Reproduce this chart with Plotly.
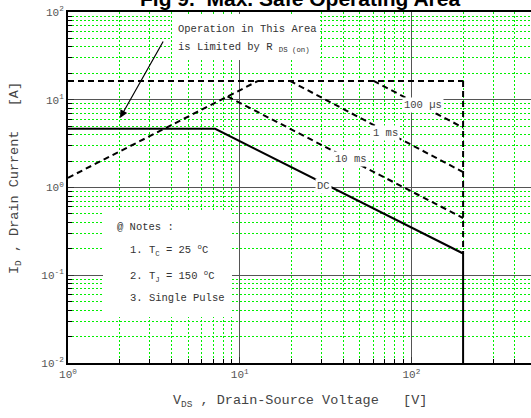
import plotly.graph_objects as go

# ---- data (V in volts, I in amps) ----
dc_v = [1, 7.2, 200, 200]
dc_i = [4.66, 4.66, 0.177, 0.01]

idm_v = [1, 200]            # pulsed drain current ceiling
idm_i = [16.4, 16.4]

rds_v = [1, 12.8]           # R_DS(on) limit
rds_i = [1.29, 16.4]

vmax_v = [200, 200]         # V_DSS limit (dashed part)
vmax_i = [16.4, 0.177]

us100_v = [60.2, 200]
us100_i = [16.4, 4.82]
ms1_v = [19.6, 200]
ms1_i = [16.4, 1.50]
ms10_v = [8.49, 200]
ms10_i = [10.9, 0.449]

decades_x = [1, 10, 100]
decades_x_text = ['10<sup>0</sup>', '10<sup>1</sup>', '10<sup>2</sup>']
decades_y = [0.01, 0.1, 1, 10, 100]
decades_y_text = ['10<sup>-2</sup>', '10<sup>-1</sup>', '10<sup>0</sup>',
                  '10<sup>1</sup>', '10<sup>2</sup>']

W, H = 531, 418
L, R, T, B = 68, 0, 12, 55
PW, PH = W - L - R, H - T - B

def px(x):
    return (x - L) / PW

def py(y):
    return (H - B - y) / PH

MONO = 'Liberation Mono'
GREY = '#555555'

fig = go.Figure()

dash = '6px,4px'
for xs, ys in [(idm_v, idm_i), (rds_v, rds_i), (vmax_v, vmax_i),
               (us100_v, us100_i), (ms1_v, ms1_i), (ms10_v, ms10_i)]:
    fig.add_trace(go.Scatter(x=xs, y=ys, mode='lines',
                             line=dict(color='black', width=2, dash=dash),
                             showlegend=False, hoverinfo='skip'))

fig.add_trace(go.Scatter(x=dc_v, y=dc_i, mode='lines',
                         line=dict(color='black', width=2),
                         showlegend=False, hoverinfo='skip'))

minor_style = dict(dtick='D1', showgrid=True, gridcolor='#00f000',
                   griddash='2px,2px', gridwidth=1,
                   ticks='inside', ticklen=4, tickcolor='black')

fig.update_xaxes(
    type='log', range=[0, PW / 171.7],
    tickmode='array', tickvals=decades_x, ticktext=decades_x_text,
    tickfont=dict(family=MONO, size=11, color=GREY),
    showgrid=True, gridcolor='#555555', gridwidth=1,
    ticks='inside', ticklen=6, tickcolor='#333',
    showline=True, linecolor='black', linewidth=2, mirror=True,
    zeroline=False, minor=minor_style,
)
fig.update_yaxes(
    type='log', range=[-2, 2],
    tickmode='array', tickvals=decades_y, ticktext=decades_y_text,
    tickfont=dict(family=MONO, size=11, color=GREY),
    showgrid=True, gridcolor='#555555', gridwidth=1,
    ticks='inside', ticklen=6, tickcolor='#333',
    showline=True, linecolor='black', linewidth=2,
    zeroline=False, minor=minor_style,
)

# white boxes behind the text blocks (no traces run through them)
for x0, y0, x1, y1 in [(172, 14, 318, 60), (103, 212, 232, 317)]:
    fig.add_shape(type='rect', xref='paper', yref='paper',
                  x0=px(x0), x1=px(x1), y0=py(y1), y1=py(y0),
                  fillcolor='white', line=dict(width=0), layer='above')

anns = [
    ('Operation in This Area', 176, 29),
    ('is Limited by R <sub>DS (on)</sub>', 176, 48),
    ('@ Notes :', 115, 227),
    ('1. T<sub>C</sub> = 25 <sup>o</sup>C', 128, 250),
    ('2. T<sub>J</sub> = 150 <sup>o</sup>C', 128, 276),
    ('3. Single Pulse', 128, 298),
]
for text, x, y in anns:
    fig.add_annotation(text=text, xref='paper', yref='paper', x=px(x), y=py(y),
                       xanchor='left', yanchor='middle', showarrow=False,
                       font=dict(family=MONO, size=10.5, color='#333'))

for text, x, y in [('100 \u00b5s', 423, 105), ('1 ms', 385, 133),
                   ('10 ms', 351, 159), ('DC', 323, 186)]:
    fig.add_annotation(text=text, xref='paper', yref='paper', x=px(x), y=py(y),
                       xanchor='center', yanchor='middle', showarrow=False,
                       bgcolor='white', borderpad=1,
                       font=dict(family=MONO, size=10.5, color='#444'))

# arrow pointing at the R_DS(on) limited area
fig.add_annotation(text='', xref='paper', yref='paper', x=px(120), y=py(118),
                   ax=44, ay=-78, showarrow=True, arrowhead=2, arrowsize=1.3,
                   arrowwidth=1.2, arrowcolor='black')

# axis titles
fig.add_annotation(text='V<sub>DS</sub> , Drain-Source Voltage\u00a0\u00a0\u00a0[V]',
                   xref='paper', yref='paper', x=px(300), y=py(401),
                   xanchor='center', yanchor='middle', showarrow=False,
                   font=dict(family=MONO, size=13.5, color='#444'))
fig.add_annotation(text='I<sub>D</sub> , Drain Current\u00a0\u00a0\u00a0[A]',
                   xref='paper', yref='paper', x=px(16), y=py(178),
                   xanchor='center', yanchor='middle', showarrow=False,
                   textangle=-90,
                   font=dict(family=MONO, size=13.5, color='#444'))

# title, clipped by the top edge as in the original
fig.add_annotation(text='<b>Fig 9.\u00a0 Max. Safe Operating Area</b>',
                   xref='paper', yref='paper', x=px(300), y=py(-1.5),
                   xanchor='center', yanchor='middle', showarrow=False,
                   font=dict(family='Arial, Liberation Sans', size=21, color='black'))

fig.update_layout(
    width=W, height=H,
    margin=dict(l=L, r=R, t=T, b=B),
    plot_bgcolor='white', paper_bgcolor='white',
    showlegend=False,
)

fig.write_html("out.html", config={'displayModeBar': False},
               post_script="document.body.style.margin='0';")
